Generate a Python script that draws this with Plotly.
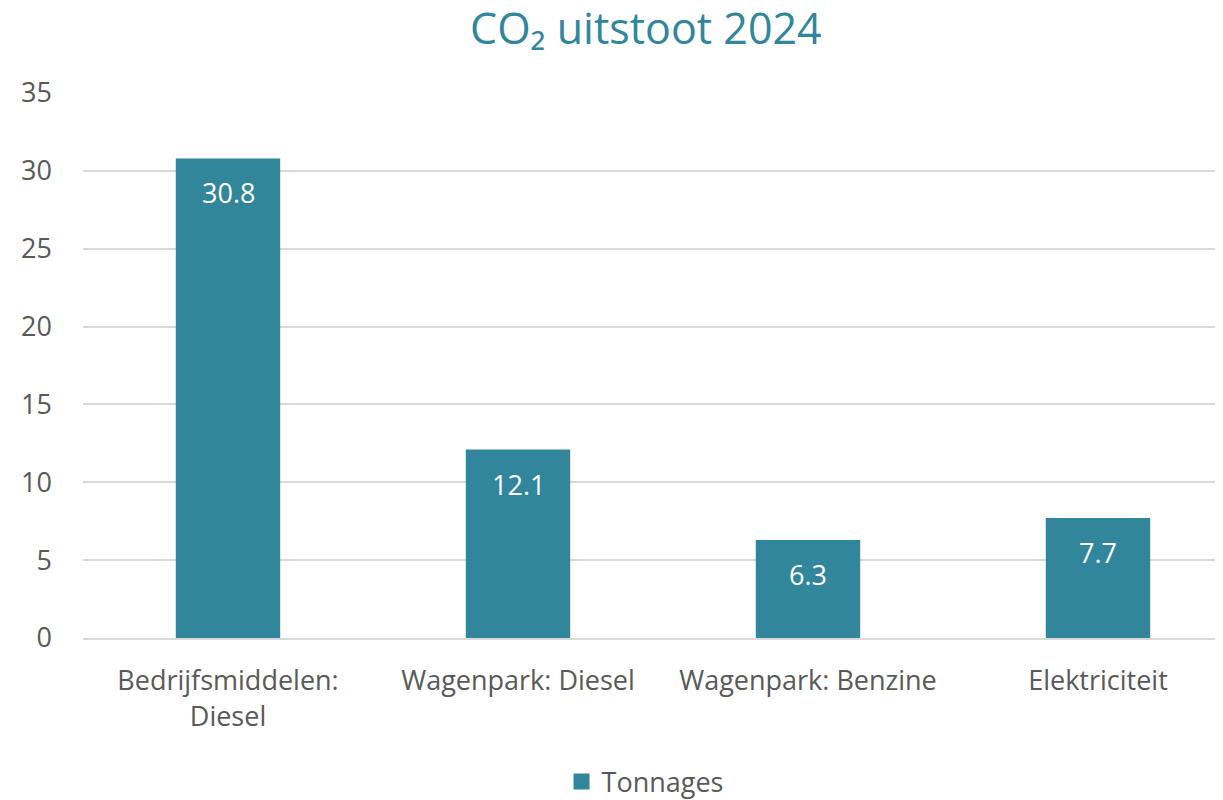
import plotly.graph_objects as go

categories = ["Bedrijfsmiddelen:<br>Diesel", "Wagenpark: Diesel", "Wagenpark: Benzine", "Elektriciteit"]
values = [30.8, 12.1, 6.3, 7.7]
series_name = "Tonnages"
y_ticks = [0, 5, 10, 15, 20, 25, 30, 35]

BAR = "#31869B"
FONT = "Open Sans"
TXT = "#595959"

fig = go.Figure()
fig.add_trace(go.Bar(
    x=categories, y=values, name=series_name,
    marker=dict(color=BAR, line=dict(width=0)),
    showlegend=False,
))
# legend entry with a larger square swatch
fig.add_trace(go.Scatter(
    x=[None], y=[None], mode="markers", name=series_name,
    marker=dict(symbol="square", size=17, color=BAR), showlegend=True,
))
for c, v in zip(categories, values):
    fig.add_annotation(x=c, y=v, text=f"{v:.1f}", showarrow=False,
                       yanchor="top", yshift=-14,
                       font=dict(family=FONT, size=27, color="white"))

fig.update_layout(
    width=1215, height=792,
    paper_bgcolor="white", plot_bgcolor="white",
    margin=dict(l=75, r=0, t=85, b=162, autoexpand=False),
    bargap=0.64,
    title=dict(text="CO₂ uitstoot 2024", x=0.525, xanchor="center", y=0.9735, yanchor="middle",
               font=dict(family=FONT, size=43, color=BAR)),
    font=dict(family=FONT, color=TXT, size=27),
    legend=dict(orientation="h", x=0.493, xanchor="center", y=-0.264, yanchor="middle",
                font=dict(size=27, color=TXT), itemsizing="trace"),
    xaxis=dict(range=[-0.5, -0.5 + 1140 / 290], showgrid=False, showline=True,
               linecolor="#D9D9D9", linewidth=2, ticks="", ticklabelstandoff=18,
               tickfont=dict(size=27, color=TXT)),
    yaxis=dict(range=[0, 35], tickvals=y_ticks, showgrid=True, gridcolor="#D9D9D9",
               gridwidth=2, zeroline=False, showline=False, ticks="",
               ticklabelstandoff=30, tickfont=dict(size=27, color=TXT)),
)

fig.write_html("out.html")
